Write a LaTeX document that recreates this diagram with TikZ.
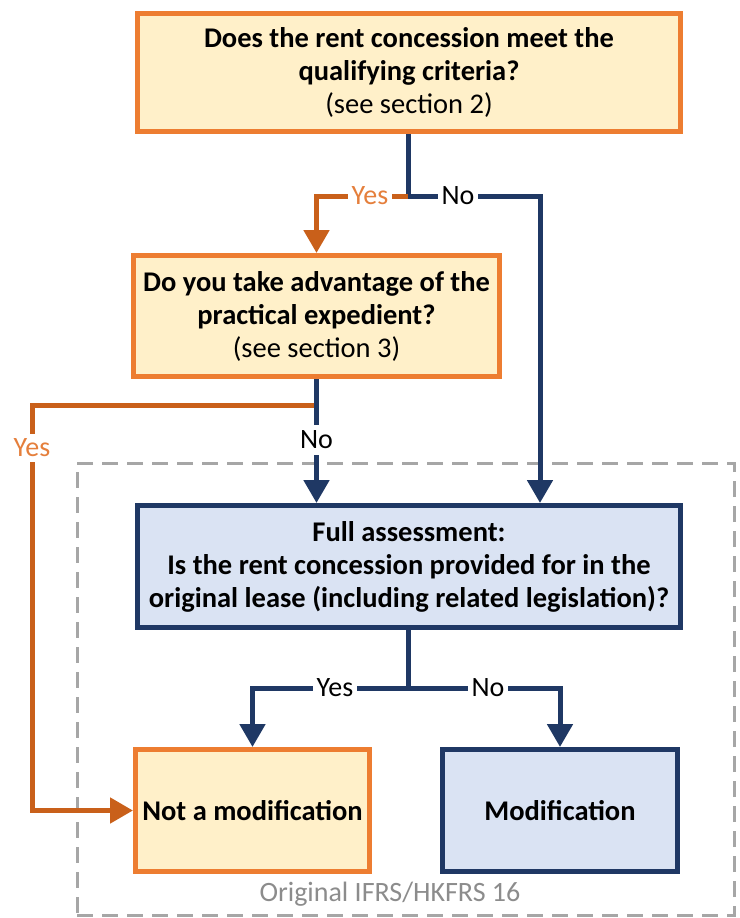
\documentclass[tikz,border=0pt]{standalone}
\usepackage{fontspec}
\setmainfont{Carlito}
\usetikzlibrary{arrows.meta,calc}
\definecolor{orbd}{HTML}{ED7D31}
\definecolor{orfill}{HTML}{FFF0C9}
\definecolor{navy}{HTML}{1F3864}
\definecolor{bluefill}{HTML}{DAE3F3}
\definecolor{orline}{HTML}{C9601A}
\definecolor{ortext}{HTML}{E57F3C}
\definecolor{dashgray}{HTML}{A6A6A6}
\definecolor{labgray}{HTML}{8C8C8C}
\begin{document}
\begin{tikzpicture}[x=1pt,y=-1pt,
  box/.style={draw, line width=5pt, align=center, inner sep=0pt,
    font=\fontsize{28.5}{33}\selectfont\bfseries},
  obox/.style={box, draw=orbd, fill=orfill},
  bbox/.style={box, draw=navy, fill=bluefill},
  navyline/.style={draw=navy, line width=5pt, line join=miter},
  orangeline/.style={draw=orline, line width=5pt, line join=miter},
  tip/.style={-{Triangle[width=25pt,length=23pt]}},
  lab/.style={fill=white, inner xsep=4pt, inner ysep=1pt, font=\fontsize{28}{30}\selectfont},
]
\useasboundingbox (0,0) rectangle (739,918);
% dashed frame
\node[draw=dashgray, line width=3pt, dash pattern=on 16pt off 9pt,
  minimum width=657pt, minimum height=452pt, inner sep=0pt] (frame) at (405.5,689) {};
\node[text=labgray, font=\fontsize{28}{30}\selectfont] (flab) at (390,894) {Original IFRS/HKFRS 16};
% boxes
\node[obox, minimum width=543pt, minimum height=118pt] (q1) at (409,72.5)
  {Does the rent concession meet the\\qualifying criteria?\\{\mdseries (see section 2)}};
\node[obox, minimum width=366pt, minimum height=121pt] (q2) at (316.5,316)
  {Do you take advantage of the\\practical expedient?\\{\mdseries (see section 3)}};
\node[bbox, minimum width=543pt, minimum height=122pt] (q3) at (409,566.5)
  {Full assessment:\\Is the rent concession provided for in the\\original lease (including related legislation)?};
\node[obox, minimum width=234pt, minimum height=122pt] (q4) at (252.5,810.5) {Not a modification};
\node[bbox, minimum width=235pt, minimum height=122pt] (q5) at (560,810.5) {Modification};
% junctions
\coordinate (j1) at (408,196);
\coordinate (a1) at (540,196);
\coordinate (j2) at (q2.south |- 0,405);
\coordinate (c2) at (32,405);
\coordinate (j3) at (408,688);
% connectors from q1
\draw[navyline] (q1.south -| j1) -- (j1);
\draw[orangeline, tip] (j1) -| (q2.north);
\draw[navyline, tip] (j1) -- (a1) -- (a1 |- q3.north);
\node[lab, text=ortext] (y1) at (370,196) {Yes};
\node[lab] (n1) at (458,196) {No};
% connectors from q2
\draw[orangeline, tip] (j2) -- (c2) |- (q4.west);
\draw[navyline, tip] (q2.south) -- (q2.south |- q3.north);
\node[lab, text=ortext, inner xsep=1pt, inner ysep=5pt] (y2) at (32,448) {Yes};
\node[lab, inner xsep=1pt, inner ysep=6pt] (n2) at (q2.south |- 0,440) {No};
% connectors from q3
\draw[navyline] (q3.south -| j3) -- (j3);
\draw[navyline, tip] (j3) -| (q4.north);
\draw[navyline, tip] (j3) -| (q5.north);
\node[lab] (y3) at (335,688) {Yes};
\node[lab] (n3) at (488,688) {No};
\end{tikzpicture}
\end{document}
